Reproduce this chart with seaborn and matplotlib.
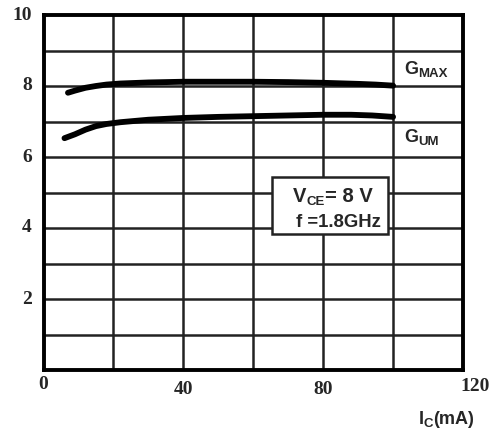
import matplotlib
matplotlib.use("Agg")
import matplotlib.pyplot as plt
import seaborn as sns
import pandas as pd

# Power gain vs collector current
ic_gmax = [7, 9, 12, 15, 18, 22, 30, 40, 50, 60, 70, 80, 90, 95, 100]
gmax = [7.81, 7.87, 7.95, 8.0, 8.04, 8.07, 8.1, 8.12, 8.12, 8.12, 8.11,
        8.09, 8.06, 8.04, 8.01]
ic_gum = [6, 9, 12, 15, 18, 22, 30, 40, 50, 60, 70, 80, 88, 94, 100]
gum = [6.53, 6.64, 6.77, 6.87, 6.93, 6.98, 7.05, 7.1, 7.13, 7.15, 7.17,
       7.19, 7.19, 7.17, 7.13]

x_ticks = [0, 40, 80, 120]
y_ticks = [2, 4, 6, 8, 10]

sns.set_theme(style="white")
plt.rcParams["font.family"] = ["Liberation Sans", "DejaVu Sans"]

W, H = 500, 432
fig = plt.figure(figsize=(W / 100, H / 100), dpi=100)
ax = fig.add_axes([43.5 / W, 62 / H, 419.5 / W, 355 / H])

df = pd.concat([
    pd.DataFrame({"Ic": ic_gmax, "G": gmax, "curve": "GMAX"}),
    pd.DataFrame({"Ic": ic_gum, "G": gum, "curve": "GUM"}),
])
sns.lineplot(data=df, x="Ic", y="G", units="curve", estimator=None,
             color="black", linewidth=4.2, solid_capstyle="round",
             solid_joinstyle="round", ax=ax, zorder=5)

ax.set_xlim(0, 120)
ax.set_ylim(0, 10)

# grid: every 20 mA, every 1 dB
for gx in range(20, 120, 20):
    ax.axvline(gx, color="#222222", linewidth=1.8, zorder=1)
for gy in range(1, 10):
    ax.axhline(gy, color="#222222", linewidth=1.8, zorder=1)

for s in ax.spines.values():
    s.set_visible(True)
    s.set_color("black")
    s.set_linewidth(2.8)

ax.set_xticks([])
ax.set_yticks([])
ax.set_xlabel("")
ax.set_ylabel("")

serif = {"family": "Liberation Serif", "weight": "bold", "size": 14}
for t in y_ticks:
    ax.text(-3.3, t, str(t), ha="right", va="center", fontdict=serif,
            clip_on=False)
ax.text(0, -0.18, "0", ha="center", va="top", fontdict=serif, clip_on=False)
ax.text(40, -0.32, "40", ha="center", va="top", fontdict=serif, clip_on=False)
ax.text(80, -0.32, "80", ha="center", va="top", fontdict=serif, clip_on=False)
ax.text(123.5, -0.22, "120", ha="center", va="top", fontdict=serif,
        clip_on=False)

renderer = fig.canvas.get_renderer()


def pieces(x_px, y_px, parts, zorder=7):
    """Write bold text pieces left to right from a pixel position
    (y measured from the top); each part is (text, size, drop_px)."""
    x = x_px
    for txt, size, drop in parts:
        t = fig.text(x / W, 1 - (y_px + drop) / H, txt, ha="left",
                     va="baseline", fontsize=size, fontweight="bold",
                     zorder=zorder)
        bb = t.get_window_extent(renderer)
        x += bb.width


# curve labels
pieces(404, 74, [("G", 13, 0), ("MAX", 9.5, 3)])
pieces(404, 142, [("G", 13, 0), ("UM", 9.5, 3)])

# condition box
ax.add_patch(plt.Rectangle((65.4, 3.82), 33.2, 1.62, facecolor="white",
                           edgecolor="#222222", linewidth=1.8, zorder=6))
pieces(293, 202, [("V", 14.5, 0), ("CE", 9.5, 3), ("= 8 V", 14.5, 0)])
pieces(295.5, 227, [("f =1.8GHz", 13.3, 0)])

# axis title
pieces(419, 424, [("I", 13, 0), ("C", 9.5, 3), ("(mA)", 13, 0)])

fig.savefig("out.png", dpi=100)
